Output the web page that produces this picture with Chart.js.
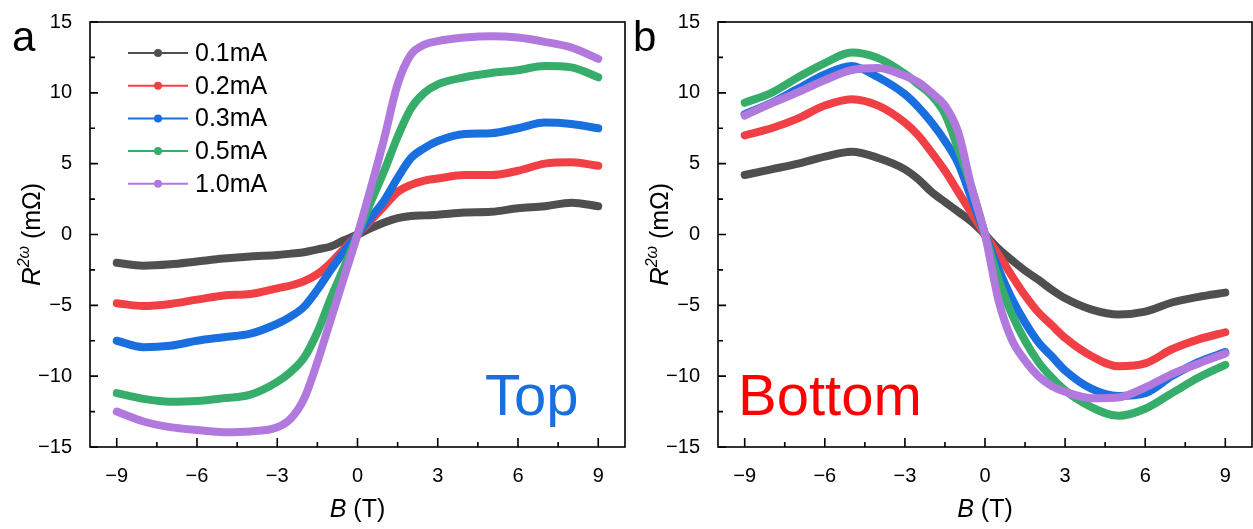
<!DOCTYPE html>
<html>
<head>
<meta charset="utf-8">
<script src="https://cdn.jsdelivr.net/npm/chart.js@4.4.1/dist/chart.umd.min.js"></script>
<style>
  html, body { margin: 0; padding: 0; background: #fff; }
  #wrap { position: relative; width: 1253px; height: 529px; }
  canvas { position: absolute; top: 0; }
</style>
</head>
<body>
<div id="wrap">
  <canvas id="chartTop" width="630" height="529" style="left:0"></canvas>
  <canvas id="chartBottom" width="623" height="529" style="left:630px"></canvas>
</div>
<script>
// field sweep (T), shared by every curve
const fieldB = [-9, -8, -7, -6, -5, -4, -3, -2.5, -2, -1.5, -1, -0.5, 0, 0.5, 1, 1.5, 2, 2.5, 3, 4, 5, 6, 7, 8, 9];
const currentLabels = ['0.1mA', '0.2mA', '0.3mA', '0.5mA', '1.0mA'];

// R2w (mOhm), top contact
const top01 = [-2.0, -2.2, -2.1, -1.9, -1.7, -1.55, -1.45, -1.35, -1.25, -1.05, -0.85, -0.4, 0, 0.45, 0.85, 1.15, 1.3, 1.35, 1.4, 1.55, 1.6, 1.85, 2.0, 2.25, 2.0];
const top02 = [-4.85, -5.05, -4.9, -4.6, -4.3, -4.2, -3.8, -3.6, -3.3, -2.8, -2.0, -1.0, 0, 1.0, 2.0, 3.0, 3.5, 3.8, 3.95, 4.2, 4.2, 4.5, 5.0, 5.1, 4.85];
const top03 = [-7.5, -7.95, -7.85, -7.5, -7.25, -7.0, -6.3, -5.8, -5.1, -3.9, -2.5, -1.2, 0, 1.2, 2.4, 4.0, 5.4, 6.1, 6.6, 7.1, 7.15, 7.5, 7.9, 7.8, 7.5];
const top05 = [-11.2, -11.6, -11.8, -11.75, -11.55, -11.3, -10.4, -9.7, -8.7, -6.9, -4.5, -2.3, 0, 2.3, 4.5, 6.9, 8.9, 10.0, 10.6, 11.1, 11.4, 11.6, 11.9, 11.8, 11.1];
const top10 = [-12.5, -13.2, -13.6, -13.8, -13.95, -13.9, -13.6, -13.0, -11.6, -9.0, -6.0, -3.0, 0, 3.3, 6.8, 10.6, 12.7, 13.4, 13.65, 13.9, 14.0, 13.9, 13.6, 13.2, 12.4];

// R2w (mOhm), bottom contact
const bot01 = [4.2, 4.6, 5.0, 5.5, 5.85, 5.4, 4.6, 3.9, 3.0, 2.3, 1.6, 0.9, 0, -1.0, -1.8, -2.55, -3.2, -3.9, -4.5, -5.3, -5.65, -5.45, -4.8, -4.4, -4.1];
const bot02 = [7.0, 7.5, 8.2, 9.1, 9.55, 9.1, 7.9, 7.0, 5.8, 4.5, 3.0, 1.5, 0, -1.4, -2.9, -4.3, -5.5, -6.4, -7.3, -8.6, -9.3, -9.1, -8.1, -7.4, -6.9];
const bot03 = [8.5, 9.3, 10.3, 11.3, 11.9, 11.1, 9.9, 9.0, 7.9, 6.6, 5.0, 2.5, 0, -2.4, -4.5, -6.2, -7.6, -8.6, -9.6, -10.9, -11.4, -11.2, -10.0, -9.0, -8.3];
const bot05 = [9.3, 10.0, 11.1, 12.1, 12.85, 12.45, 11.35, 10.6, 9.8, 8.5, 6.0, 3.3, 0, -3.1, -5.6, -7.5, -9.0, -10.1, -11.0, -12.2, -12.8, -12.3, -11.2, -10.1, -9.2];
const bot10 = [8.4, 9.25, 10.05, 10.9, 11.6, 11.75, 11.2, 10.75, 10.0, 9.1, 7.2, 3.3, 0, -4.6, -7.4, -8.9, -10.0, -10.7, -11.1, -11.55, -11.5, -10.8, -9.85, -9.1, -8.4];

// axis ticks
const xTickValues = [-9, -6, -3, 0, 3, 6, 9];
const xMinorValues = [-7.5, -4.5, -1.5, 1.5, 4.5, 7.5];
const yTickValues = [-15, -10, -5, 0, 5, 10, 15];
const yMinorValues = [-12.5, -7.5, -2.5, 2.5, 7.5, 12.5];

const seriesColors = ['#4f4f4f', '#f04045', '#1a6fdf', '#37ad6b', '#b178de'];
const FONT = '"Liberation Sans", Arial, Helvetica, sans-serif';

Chart.defaults.font.family = FONT;
Chart.defaults.color = '#000';

const fmt = v => (v < 0 ? '\u2212' + (-v) : String(v));

function drawYTitle(ctx, cx, cy) {
  ctx.save();
  ctx.translate(cx, cy);
  ctx.rotate(-Math.PI / 2);
  const parts = [
    ['R', `italic 26px ${FONT}`, 0],
    ['2\u03c9', `italic 16px ${FONT}`, -11],
    [' (m\u03a9)', `25px ${FONT}`, 0]
  ];
  let w = 0;
  parts.forEach(p => { ctx.font = p[1]; w += ctx.measureText(p[0]).width; });
  let x = -w / 2;
  ctx.fillStyle = '#000';
  ctx.textBaseline = 'alphabetic';
  parts.forEach(p => {
    ctx.font = p[1];
    ctx.fillText(p[0], x, 9 + p[2]);
    x += ctx.measureText(p[0]).width;
  });
  ctx.restore();
}

function drawXTitle(ctx, cx, baseY) {
  ctx.save();
  ctx.fillStyle = '#000';
  ctx.font = `italic 25px ${FONT}`;
  const w1 = ctx.measureText('B').width;
  ctx.font = `25px ${FONT}`;
  const w2 = ctx.measureText(' (T)').width;
  let x = cx - (w1 + w2) / 2;
  ctx.font = `italic 25px ${FONT}`;
  ctx.fillText('B', x, baseY);
  ctx.font = `25px ${FONT}`;
  ctx.fillText(' (T)', x + w1, baseY);
  ctx.restore();
}

// box, inward ticks, titles and labels
const frame = {
  id: 'frame',
  afterDatasetsDraw(chart, args, o) {
    const { ctx, chartArea: a, scales: { x, y } } = chart;
    ctx.save();
    ctx.strokeStyle = '#000';
    ctx.lineWidth = 1.6;
    ctx.strokeRect(a.left, a.top, a.right - a.left, a.bottom - a.top);

    ctx.beginPath();
    xTickValues.forEach(v => { const p = x.getPixelForValue(v); ctx.moveTo(p, a.bottom); ctx.lineTo(p, a.bottom - 9); });
    xMinorValues.forEach(v => { const p = x.getPixelForValue(v); ctx.moveTo(p, a.bottom); ctx.lineTo(p, a.bottom - 5); });
    yTickValues.forEach(v => { const p = y.getPixelForValue(v); ctx.moveTo(a.left, p); ctx.lineTo(a.left + 8, p); });
    yMinorValues.forEach(v => { const p = y.getPixelForValue(v); ctx.moveTo(a.left, p); ctx.lineTo(a.left + 5, p); });
    ctx.stroke();

    drawYTitle(ctx, a.left - 59, y.getPixelForValue(0));
    drawXTitle(ctx, x.getPixelForValue(0), 517);

    ctx.fillStyle = '#000';
    ctx.font = `42px ${FONT}`;
    ctx.textBaseline = 'alphabetic';
    ctx.fillText(o.letter, o.letterX, 51);

    ctx.fillStyle = o.tagColor;
    ctx.font = `58px ${FONT}`;
    ctx.fillText(o.tag, o.tagX, 415);

    if (o.legend) {
      ctx.font = `25px ${FONT}`;
      ctx.textBaseline = 'middle';
      chart.data.datasets.forEach((ds, i) => {
        const ly = 53 + i * 32.7;
        ctx.strokeStyle = ds.borderColor;
        ctx.lineWidth = 2;
        ctx.beginPath();
        ctx.moveTo(128, ly);
        ctx.lineTo(188, ly);
        ctx.stroke();
        ctx.fillStyle = ds.borderColor;
        ctx.beginPath();
        ctx.arc(158, ly, 4, 0, Math.PI * 2);
        ctx.fill();
        ctx.fillStyle = '#000';
        ctx.fillText(ds.label, 195, ly + 1);
      });
    }
    ctx.restore();
  }
};

function makePanel(canvasId, series, opts) {
  return new Chart(document.getElementById(canvasId), {
    type: 'line',
    data: {
      datasets: series.map((vals, i) => ({
        label: currentLabels[i],
        data: fieldB.map((b, k) => ({ x: b, y: vals[k] })),
        borderColor: seriesColors[i],
        backgroundColor: seriesColors[i],
        borderWidth: 8,
        pointRadius: 0,
        cubicInterpolationMode: 'monotone',
        borderCapStyle: 'round',
        borderJoinStyle: 'round',
        order: series.length - i
      }))
    },
    options: {
      responsive: false,
      animation: false,
      devicePixelRatio: 1,
      layout: { padding: { top: 17, right: opts.padRight, left: 0, bottom: 0 } },
      plugins: { legend: { display: false }, tooltip: { enabled: false }, frame: opts },
      scales: {
        x: {
          type: 'linear', min: -10, max: 10,
          grid: { display: false }, border: { display: false },
          afterBuildTicks: s => { s.ticks = xTickValues.map(v => ({ value: v })); },
          afterFit: s => { s.height = 82; },
          ticks: { padding: 9, color: '#000', font: { size: 20 }, maxRotation: 0, autoSkip: false, callback: fmt }
        },
        y: {
          type: 'linear', min: -15, max: 15,
          grid: { display: false }, border: { display: false },
          afterBuildTicks: s => { s.ticks = yTickValues.map(v => ({ value: v })); },
          afterFit: s => { s.width = opts.axisWidth; },
          ticks: { padding: 10, color: '#000', font: { size: 20 }, autoSkip: false, callback: fmt }
        }
      }
    },
    plugins: [frame]
  });
}

makePanel('chartTop', [top01, top02, top03, top05, top10], {
  letter: 'a', letterX: 12, tag: 'Top', tagColor: '#1a6fdf', tagX: 485,
  legend: true, padRight: 5, axisWidth: 90
});

makePanel('chartBottom', [bot01, bot02, bot03, bot05, bot10], {
  letter: 'b', letterX: 3, tag: 'Bottom', tagColor: '#ff0000', tagX: 108,
  legend: false, padRight: 1, axisWidth: 88
});
</script>
</body>
</html>
